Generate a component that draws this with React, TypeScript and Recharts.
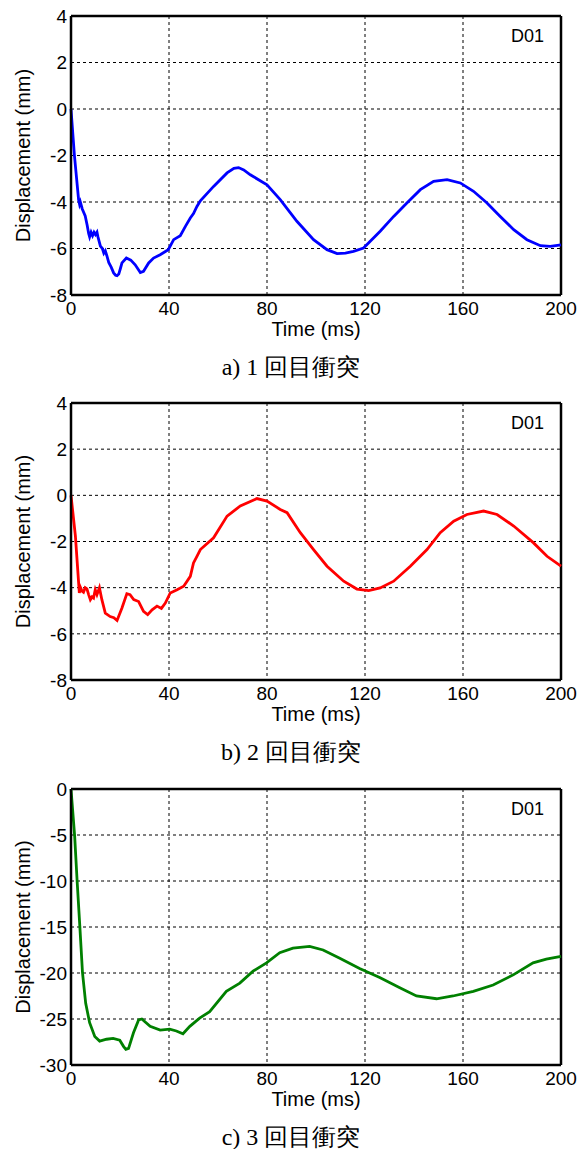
import React from "react";
import { LineChart, Line, XAxis, YAxis, CartesianGrid, ReferenceLine } from "recharts";

const timeTicks = [0, 40, 80, 120, 160, 200];
const smallTicks = [-8, -6, -4, -2, 0, 2, 4];
const largeTicks = [-30, -25, -20, -15, -10, -5, 0];

// 1st impact (blue)
const time1 = [0, 1.4, 3.1, 3.5, 3.8, 4.6, 5.8, 6.6, 7.2, 7.6, 8.2, 8.8, 9.4, 10.0, 10.6, 11.0, 12.0, 12.8, 13.4, 14.0, 14.6, 15.4, 16.4, 17.4, 18.2, 18.8, 19.5, 20.2, 20.8, 22.6, 24.4, 26.2, 28.3, 29.6, 31.7, 33.7, 36.4, 39.7, 41.9, 44.6, 46.7, 48.7, 50.0, 51.4, 52.8, 58.2, 63.7, 66.5, 68.4, 70.5, 73.2, 80, 85.4, 92.2, 99, 104.5, 108.6, 112, 115.3, 119.4, 126.2, 131.7, 137.1, 142.6, 148, 153.5, 158.9, 164.3, 169.8, 175.2, 180.7, 186.1, 191.6, 195.6, 200];
const disp1 = [0, -2.0, -3.9, -4.1, -4.0, -4.3, -4.6, -5.0, -5.35, -5.5, -5.3, -5.45, -5.3, -5.4, -5.3, -5.5, -5.9, -6.0, -6.2, -6.1, -6.3, -6.6, -6.8, -7.05, -7.15, -7.17, -7.1, -6.85, -6.62, -6.41, -6.5, -6.7, -7.03, -6.98, -6.62, -6.41, -6.27, -6.05, -5.62, -5.45, -5.05, -4.69, -4.5, -4.19, -3.95, -3.33, -2.75, -2.55, -2.52, -2.62, -2.83, -3.26, -3.9, -4.83, -5.62, -6.05, -6.22, -6.2, -6.12, -5.98, -5.26, -4.62, -4.04, -3.47, -3.11, -3.04, -3.18, -3.54, -4.04, -4.62, -5.19, -5.62, -5.88, -5.91, -5.84];

// 2nd impact (red)
const time2 = [0, 1.8, 3.4, 3.9, 4.5, 5.1, 5.8, 6.5, 7.2, 7.9, 8.6, 9.2, 9.9, 10.6, 11.6, 12.6, 14.0, 16.0, 17.5, 18.8, 20.8, 22.8, 24.1, 25.6, 27.6, 29.6, 31.3, 33.1, 35.1, 36.9, 38.5, 40.5, 43.3, 46, 48.7, 50, 51.4, 52.8, 58.2, 63.7, 69.1, 75.9, 80, 85.4, 88.2, 93.6, 99, 104.5, 111.3, 116.7, 121.5, 126.2, 131.7, 138.5, 145.3, 150.7, 156.2, 161.6, 168.4, 173.9, 180.7, 188.8, 194.3, 200];
const disp2 = [0, -1.77, -4.23, -4.0, -4.15, -4.2, -4.0, -4.05, -4.3, -4.52, -4.4, -4.45, -4.09, -4.3, -4.0, -4.52, -5.1, -5.25, -5.3, -5.42, -4.88, -4.26, -4.3, -4.52, -4.6, -5.03, -5.17, -4.96, -4.8, -4.9, -4.67, -4.23, -4.09, -3.94, -3.51, -2.93, -2.64, -2.35, -1.84, -0.9, -0.46, -0.14, -0.25, -0.61, -0.75, -1.62, -2.35, -3.07, -3.72, -4.06, -4.13, -4.01, -3.72, -3.07, -2.35, -1.62, -1.12, -0.83, -0.68, -0.83, -1.33, -2.06, -2.64, -3.07];

// 3rd impact (green)
const time3 = [0, 1.5, 2.5, 3.6, 4.7, 6.0, 7.6, 9.7, 11.7, 14.5, 17.2, 19.9, 21.5, 22.4, 23.5, 25.5, 27.6, 28.9, 32.3, 36.4, 40.3, 43, 45.7, 48.5, 52.5, 56.6, 63.4, 68.9, 74.3, 79.8, 85.2, 90.6, 97.4, 102.9, 109.7, 117.8, 126, 134.2, 141, 149.2, 155.9, 164.2, 172.3, 180.5, 188.6, 194, 200];
const disp3 = [0, -5.15, -10, -14.9, -20, -23.3, -25.4, -26.9, -27.4, -27.2, -27.1, -27.3, -28.0, -28.3, -28.2, -26.5, -25.1, -25.0, -25.8, -26.2, -26.1, -26.3, -26.6, -25.8, -24.9, -24.2, -22.0, -21.1, -19.8, -18.9, -17.8, -17.3, -17.1, -17.5, -18.4, -19.5, -20.5, -21.6, -22.5, -22.8, -22.5, -22.0, -21.3, -20.2, -18.9, -18.5, -18.2];

const captions = ["a) 1 回目衝突", "b) 2 回目衝突", "c) 3 回目衝突"];
const gaugeName = "D01";

const sans = "'Liberation Sans', Arial, sans-serif";

const toRows = (t: number[], v: number[]) => t.map((x, i) => ({ t: x, d: v[i] }));

interface PanelProps {
  top: number;
  plotH: number;
  times: number[];
  values: number[];
  color: string;
  yTicks: number[];
  caption: string;
}

const Panel = ({ top, plotH, times, values, color, yTicks, caption }: PanelProps) => {
  const data = toRows(times, values);
  const yMin = yTicks[0];
  const yMax = yTicks[yTicks.length - 1];
  const xAxisH = 45;
  return (
    <div style={{ position: "absolute", left: 0, top, width: 586 }}>
      <LineChart width={586} height={16 + plotH + xAxisH} data={data} margin={{ top: 16, right: 25, left: 0, bottom: 0 }}>
        <CartesianGrid stroke="#000" strokeDasharray="3 3" strokeWidth={1} />
        <XAxis
          dataKey="t"
          type="number"
          domain={[0, 200]}
          ticks={timeTicks}
          height={xAxisH}
          tickLine={false}
          tickSize={6}
          tickMargin={1}
          axisLine={{ stroke: "#000", strokeWidth: 2.5 }}
          tick={{ fill: "#000", fontSize: 19, fontFamily: sans }}
          label={{ value: "Time (ms)", position: "insideBottom", offset: 4, fill: "#000", fontSize: 20, fontFamily: sans }}
        />
        <YAxis
          type="number"
          domain={[yMin, yMax]}
          ticks={yTicks}
          width={71}
          tickLine={false}
          tickSize={2}
          tickMargin={2}
          interval={0}
          axisLine={{ stroke: "#000", strokeWidth: 2.5 }}
          tick={{ fill: "#000", fontSize: 19, fontFamily: sans }}
          label={{
            value: "Displacement (mm)",
            angle: -90,
            position: "insideLeft",
            offset: 23,
            fill: "#000",
            fontSize: 20,
            fontFamily: sans,
            style: { textAnchor: "middle" },
          }}
        />
        <ReferenceLine y={yMax} stroke="#000" strokeWidth={2.5} />
        <ReferenceLine x={200} stroke="#000" strokeWidth={2.5} />
        <Line type="linear" dataKey="d" stroke={color} strokeWidth={2.8} dot={false} isAnimationActive={false} />
      </LineChart>
      <div style={{ position: "absolute", left: 511, top: 27, fontFamily: sans, fontSize: 18, lineHeight: "18px", color: "#000" }}>
        {gaugeName}
      </div>
      <div
        style={{
          position: "absolute",
          left: 0,
          width: 582,
          top: 16 + plotH + 58,
          textAlign: "center",
          fontFamily: "'Liberation Serif', 'Times New Roman', serif",
          fontSize: 24,
          lineHeight: "28px",
          color: "#000",
        }}
      >
        {caption}
      </div>
    </div>
  );
};

export default function App() {
  return (
    <div style={{ position: "absolute", left: 0, top: 0, width: 586, height: 1149, background: "#fff" }}>
      <Panel top={0} plotH={279} times={time1} values={disp1} color="#0000ff" yTicks={smallTicks} caption={captions[0]} />
      <Panel top={387} plotH={277} times={time2} values={disp2} color="#ff0000" yTicks={smallTicks} caption={captions[1]} />
      <Panel top={773} plotH={276} times={time3} values={disp3} color="#008000" yTicks={largeTicks} caption={captions[2]} />
    </div>
  );
}
